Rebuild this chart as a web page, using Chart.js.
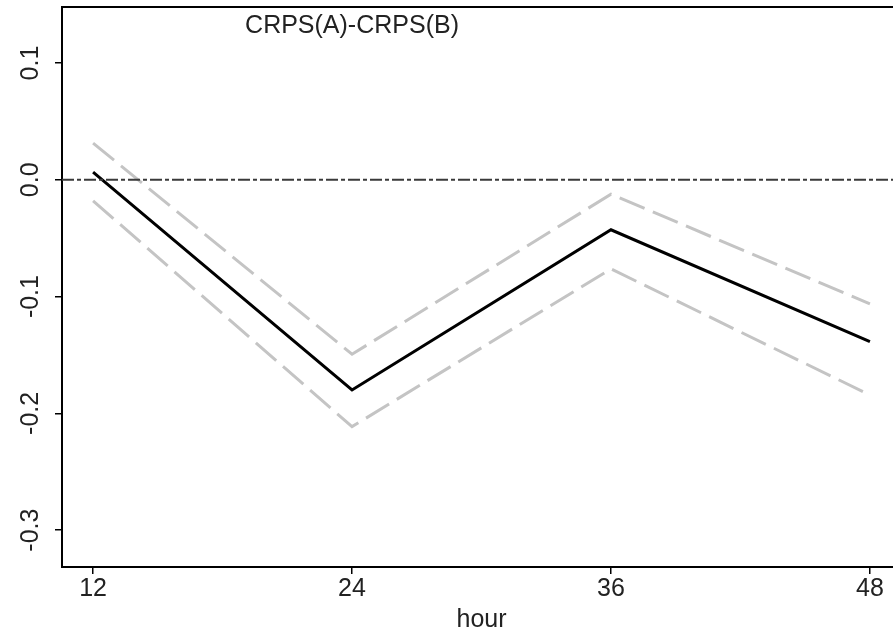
<!DOCTYPE html>
<html>
<head>
<meta charset="utf-8">
<script src="https://cdn.jsdelivr.net/npm/chart.js@4/dist/chart.umd.min.js"></script>
<style>
  html, body { margin: 0; padding: 0; background: #fff; overflow: hidden; }
  #wrap { width: 893px; height: 630px; overflow: hidden; }
</style>
</head>
<body>
<div id="wrap"><canvas id="myChart" width="920" height="630"></canvas></div>
<script>
// forecast hours and CRPS differences (mean with upper / lower bounds)
const hours = [12, 24, 36, 48];
const crpsDiff = [0.0066, -0.180, -0.0428, -0.1386];
const upperBound = [0.0314, -0.1494, -0.0123, -0.1063];
const lowerBound = [-0.018, -0.2114, -0.0763, -0.1843];

const xTicks = [12, 24, 36, 48];
const yTicks = [-0.3, -0.2, -0.1, 0.0, 0.1];
const yTickLabels = ['-0.3', '-0.2', '-0.1', '0.0', '0.1'];

const xMin = 10.56, xMax = 49.44;
const yMin = -0.3316, yMax = 0.148;

const titleText = 'CRPS(A)-CRPS(B)';
const xTitle = 'hour';

const FONT = '"Liberation Sans", Arial, sans-serif';

function toPoints(ys) {
    return hours.map((h, i) => ({ x: h, y: ys[i] }));
}

// y labels are rotated, plus the top frame line and the two text labels
const extras = {
    id: 'extras',
    afterDraw(chart) {
        const ctx = chart.ctx;
        const area = chart.chartArea;
        const ys = chart.scales.y;
        const xs = chart.scales.x;
        ctx.save();
        ctx.strokeStyle = '#000';
        ctx.lineWidth = 2;
        ctx.beginPath();
        ctx.moveTo(area.left - 1, area.top);
        ctx.lineTo(area.right, area.top);
        ctx.stroke();

        ctx.fillStyle = '#222';
        ctx.font = '25px ' + FONT;
        ctx.textAlign = 'center';
        ctx.textBaseline = 'middle';
        yTicks.forEach((v, i) => {
            const py = ys.getPixelForValue(v);
            ctx.save();
            ctx.translate(31, py);
            ctx.rotate(-Math.PI / 2);
            ctx.fillText(yTickLabels[i], 0, 0);
            ctx.restore();
        });

        ctx.textBaseline = 'alphabetic';
        ctx.fillText(titleText, xs.getPixelForValue(24), 33);
        ctx.fillText(xTitle, (area.left + area.right) / 2, 627);
        ctx.restore();
    }
};

const ctx = document.getElementById('myChart').getContext('2d');
const myChart = new Chart(ctx, {
    type: 'line',
    data: {
        datasets: [
            {
                label: 'zero',
                data: [{ x: xMin, y: 0 }, { x: xMax, y: 0 }],
                borderColor: '#3a3a3a',
                borderWidth: 2,
                borderDash: [12, 3, 4, 3],
                pointRadius: 0
            },
            {
                label: 'upper',
                data: toPoints(upperBound),
                borderColor: '#c4c4c4',
                borderWidth: 3,
                borderDash: [27, 9],
                pointRadius: 0
            },
            {
                label: 'lower',
                data: toPoints(lowerBound),
                borderColor: '#c4c4c4',
                borderWidth: 3,
                borderDash: [27, 9],
                pointRadius: 0
            },
            {
                label: 'CRPS(A)-CRPS(B)',
                data: toPoints(crpsDiff),
                borderColor: '#000',
                borderWidth: 3,
                pointRadius: 0
            }
        ]
    },
    options: {
        responsive: false,
        animation: false,
        layout: { padding: { top: 7, right: 19, left: 0, bottom: 0 } },
        plugins: {
            legend: { display: false },
            tooltip: { enabled: false }
        },
        scales: {
            x: {
                type: 'linear',
                min: xMin,
                max: xMax,
                afterBuildTicks: scale => { scale.ticks = xTicks.map(v => ({ value: v })); },
                afterFit: scale => { scale.height = 63; },
                grid: { drawOnChartArea: false, drawTicks: true, tickLength: 7, color: '#000', lineWidth: 1.5 },
                border: { display: true, color: '#000', width: 2 },
                ticks: {
                    color: '#222',
                    font: { family: FONT, size: 25 },
                    padding: 0,
                    maxRotation: 0,
                    autoSkip: false
                }
            },
            y: {
                type: 'linear',
                min: yMin,
                max: yMax,
                afterBuildTicks: scale => { scale.ticks = yTicks.map(v => ({ value: v })); },
                afterFit: scale => { scale.width = 62; },
                grid: { drawOnChartArea: false, drawTicks: true, tickLength: 7, color: '#000', lineWidth: 1.5 },
                border: { display: true, color: '#000', width: 2 },
                ticks: { display: false }
            }
        }
    },
    plugins: [extras]
});
</script>
</body>
</html>
